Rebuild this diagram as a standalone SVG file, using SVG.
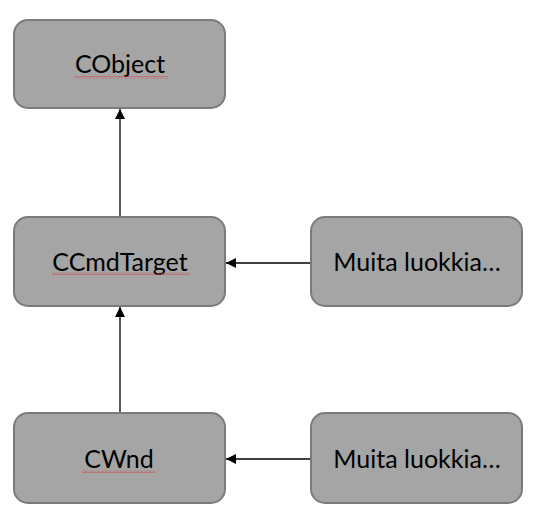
<svg xmlns="http://www.w3.org/2000/svg" width="546" height="532" viewBox="0 0 546 532">
<style>
.box{fill:#a5a5a5;stroke:#7b7b7b;stroke-width:2}
.lbl{font-family:Lato,"Open Sans","Liberation Sans",sans-serif;font-size:25px;fill:#000;text-anchor:middle}
.conn{stroke:#000;stroke-width:1.3;fill:none}
</style>
<defs>
<marker id="ah" viewBox="0 0 10 10" refX="10" refY="5" markerWidth="10" markerHeight="10" markerUnits="userSpaceOnUse" orient="auto">
<path d="M0,0 L10,5 L0,10 Z" fill="#000"/>
</marker>
<pattern id="wave" width="4" height="3" patternUnits="userSpaceOnUse">
<path d="M0,2.5 L2,0.5 L4,2.5" stroke="#d04848" stroke-width="1" fill="none"/>
</pattern>
</defs>
<rect width="546" height="532" fill="#fff"/>
<g id="connectors">
<line class="conn" x1="120" y1="217" x2="120" y2="109" marker-end="url(#ah)"/>
<line class="conn" x1="120" y1="413" x2="120" y2="307" marker-end="url(#ah)"/>
<line class="conn" x1="311" y1="263" x2="226" y2="263" marker-end="url(#ah)"/>
<line class="conn" x1="311" y1="459" x2="226" y2="459" marker-end="url(#ah)"/>
</g>
<g id="cobject">
<rect class="box" x="14" y="20" width="211" height="88" rx="14"/>
<text class="lbl" x="120" y="73">CObject</text>
<rect x="74" y="76" width="94" height="3" fill="url(#wave)"/>
</g>
<g id="ccmdtarget">
<rect class="box" x="14" y="217" width="211" height="89" rx="14"/>
<text class="lbl" x="120" y="271">CCmdTarget</text>
<rect x="52" y="272" width="138" height="3" fill="url(#wave)"/>
</g>
<g id="muita1">
<rect class="box" x="311" y="217" width="211" height="89" rx="14"/>
<text class="lbl" x="417" y="271">Muita luokkia…</text>
</g>
<g id="cwnd">
<rect class="box" x="14" y="413" width="211" height="90" rx="14"/>
<text class="lbl" x="119" y="468">CWnd</text>
<rect x="82" y="470" width="73" height="3" fill="url(#wave)"/>
</g>
<g id="muita2">
<rect class="box" x="311" y="413" width="211" height="90" rx="14"/>
<text class="lbl" x="417" y="468">Muita luokkia…</text>
</g>
</svg>
